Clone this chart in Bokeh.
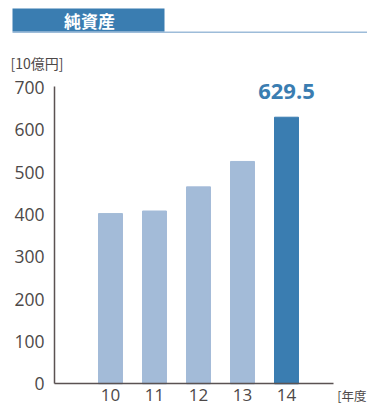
from bokeh.plotting import figure
from bokeh.models import Range1d, ColumnDataSource, Label, BoxAnnotation, FixedTicker
from bokeh.embed import file_html
from bokeh.resources import INLINE

# ---- data ----
years = ["10", "11", "12", "13", "14"]
net_assets = [402, 408, 465, 525, 629.5]
y_ticks = [0, 100, 200, 300, 400, 500, 600, 700]
y_max = 703
title_text = "純資産"
unit_text = "[10億円]"
xunit_text = "[年度"

LIGHT = "#a3bbd8"
DARK = "#3a7db1"
TXT = "#4d4848"
NUM_FONT = "Open Sans"
JP_FONT = "Noto Sans CJK JP"

W, H = 367, 405
# pixel layout of the plotting area
X0_PX, STEP_PX = 110, 44          # centre of first bar, bar spacing
BASE_PX, PX_PER_UNIT = 383.3, 0.4235
AXIS_X_PX, AXIS_END_PX = 54, 333

xs = list(range(len(years)))
colors = [LIGHT] * (len(years) - 1) + [DARK]
src = ColumnDataSource(dict(x=xs, v=net_assets, c=colors))

x_rng = Range1d(-X0_PX / STEP_PX, (W - X0_PX) / STEP_PX)
y_rng = Range1d(-(H - BASE_PX) / PX_PER_UNIT, BASE_PX / PX_PER_UNIT)
axis_x = (AXIS_X_PX - X0_PX) / STEP_PX
axis_end = (AXIS_END_PX - X0_PX) / STEP_PX

p = figure(width=W, height=H, output_backend="svg", toolbar_location=None,
           x_range=x_rng, y_range=y_rng,
           min_border=0, min_border_left=0, min_border_right=0,
           min_border_top=0, min_border_bottom=0)
p.outline_line_color = None
p.xgrid.grid_line_color = None
p.ygrid.grid_line_color = None
p.background_fill_color = "white"
p.border_fill_color = "white"

p.vbar(x="x", top="v", width=0.545, color="c", source=src)

# axes
for ax in (p.xaxis[0], p.yaxis[0]):
    ax.axis_line_color = "#5a5252"
    ax.axis_line_width = 1.5
    ax.major_tick_line_color = None
    ax.minor_tick_line_color = None
    ax.major_label_text_font = NUM_FONT
    ax.major_label_text_font_size = "17.5px"
    ax.major_label_text_color = TXT

p.xaxis.major_label_text_font_size = "17px"
p.yaxis.ticker = FixedTicker(ticks=y_ticks)
p.yaxis.major_label_standoff = 4
p.yaxis.fixed_location = axis_x
p.yaxis.bounds = (0, y_max)
p.xaxis.ticker = FixedTicker(ticks=xs)
p.xaxis.major_label_overrides = {i: y for i, y in zip(xs, years)}
p.xaxis.major_label_standoff = -1
p.xaxis.fixed_location = 0
p.xaxis.bounds = (axis_x, axis_end)

# value label
p.add_layout(Label(x=xs[-1], y=net_assets[-1], text=f"{net_assets[-1]:.1f}",
                   text_align="center", text_baseline="alphabetic", y_offset=26,
                   text_font=NUM_FONT, text_font_style="bold", text_font_size="22px",
                   text_color=DARK))

# header (screen units: px from left, px up from bottom)
def box(l, r, t, b, color):
    return BoxAnnotation(left=l, right=r, top=H - t, bottom=H - b,
                         left_units="screen", right_units="screen",
                         top_units="screen", bottom_units="screen",
                         fill_color=color, fill_alpha=1, line_color=None)

p.add_layout(box(12, W, 31, 32.5, "#9dbcd9"))
p.add_layout(box(12, 164, 8, 31, DARK))
p.add_layout(Label(x=89, y=H - 19.5, x_units="screen", y_units="screen", text=title_text,
                   text_align="center", text_baseline="middle", text_font=JP_FONT,
                   text_font_style="bold", text_font_size="17px", text_color="white"))
p.add_layout(Label(x=10, y=H - 62, x_units="screen", y_units="screen", text=unit_text,
                   text_align="left", text_baseline="middle", text_font=JP_FONT,
                   text_font_size="14px", text_color=TXT))
p.add_layout(Label(x=W - 1, y=H - 395, x_units="screen", y_units="screen", text=xunit_text,
                   text_align="right", text_baseline="middle", text_font=JP_FONT,
                   text_font_size="12.5px", text_color=TXT))

open("out.html", "w").write(file_html(p, INLINE))
